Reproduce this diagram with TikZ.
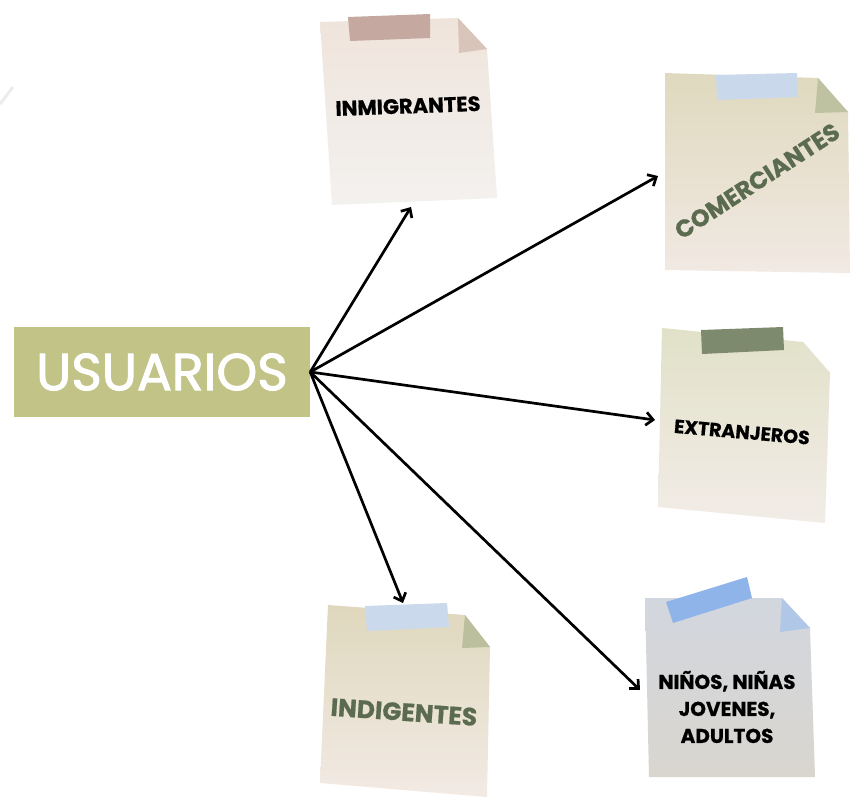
\documentclass[tikz,border=0pt]{standalone}
\usepackage{fontspec}
\usetikzlibrary{arrows.meta}
\newfontfamily\popf{Poppins}
\newcommand{\medw}{\popf\addfontfeature{FakeBold=2}}
\newcommand{\heavy}{\popf\bfseries\addfontfeature{FakeBold=0.7}}
\definecolor{usrfill}{HTML}{C2C387}
\definecolor{greentext}{HTML}{5B6B4F}
\definecolor{tapeA}{HTML}{C5A9A0}
\definecolor{foldA}{HTML}{D9C4B9}
\definecolor{noteAt}{HTML}{EFE4DB}
\definecolor{noteAb}{HTML}{F3F1EF}
\definecolor{noteBt}{HTML}{DFD9BE}
\definecolor{noteBb}{HTML}{F1E9E3}
\definecolor{foldB}{HTML}{BEC2A1}
\definecolor{tapeB}{HTML}{C9D9EB}
\definecolor{noteCt}{HTML}{E1E1C8}
\definecolor{noteCb}{HTML}{F2ECE7}
\definecolor{tapeC}{HTML}{7E8A6E}
\definecolor{foldC}{HTML}{E4E3CF}
\definecolor{noteDt}{HTML}{DFD8BD}
\definecolor{noteDb}{HTML}{F2EAE4}
\definecolor{foldD}{HTML}{BCBF9D}
\definecolor{tapeD}{HTML}{CAD9EC}
\definecolor{noteEt}{HTML}{D2D6DE}
\definecolor{noteEb}{HTML}{D9D6CF}
\definecolor{foldE}{HTML}{B0C7E8}
\definecolor{tapeE}{HTML}{8FB4EA}
\begin{document}
\begin{tikzpicture}[x=1pt,y=-1pt,
  notetext/.style={font=\heavy\fontsize{21}{24}\selectfont, text=black, inner sep=0pt, align=center},
  greenlabel/.style={notetext, text=greentext},
  link/.style={line width=2.7pt, -{Straight Barb[length=7pt,width=13pt,line width=2.7pt]}},
]
\useasboundingbox (0,0) rectangle (856,806);
\fill[white] (0,0) rectangle (856,806);
% faint stroke top-left
\draw[line width=3pt, gray!15] (0,104) -- (13,87);

% USUARIOS
\node[fill=usrfill, minimum width=296pt, minimum height=90pt, inner sep=0pt, text=white,
  font=\medw\fontsize{52}{55}\selectfont] (usr) at (162,372) {USUARIOS};

% INMIGRANTES note
\shade[top color=noteAt, bottom color=noteAb] (320,22) -- (458,18) -- (487,49) -- (497,198) -- (332,205) -- cycle;
\fill[foldA] (458,18) -- (459,53) -- (487,49) -- cycle;
\fill[tapeA] (348,17) -- (430,14) -- (430,38) -- (350,41) -- cycle;
\node[notetext, rotate=2] (inm) at (408,106) {INMIGRANTES};
\coordinate (inmend) at (411,207);

% COMERCIANTES note
\shade[top color=noteBt, bottom color=noteBb] (665,73) -- (818,78) -- (848,112) -- (850,273) -- (665,270) -- cycle;
\fill[foldB] (818,78) -- (815,113) -- (848,112) -- cycle;
\fill[tapeB] (716,75) -- (797,73) -- (798,97) -- (717,100) -- cycle;
\node[greenlabel, font=\heavy\fontsize{24}{26}\selectfont, rotate=33] (com) at (757,181) {COMERCIANTES};
\coordinate (comend) at (658,176);

% EXTRANJEROS note
\shade[top color=noteCt, bottom color=noteCb] (662,328) -- (803,342) -- (830,373) -- (825,523) -- (658,507) -- cycle;
\fill[foldC] (803,342) -- (800,373) -- (830,373) -- cycle;
\fill[tapeC] (701,330) -- (783,327) -- (784,350) -- (702,354) -- cycle;
\node[notetext, font=\heavy\fontsize{19}{22}\selectfont, rotate=-5] (ext) at (742,432) {EXTRANJEROS};
\coordinate (extend) at (655,420);

% INDIGENTES note
\shade[top color=noteDt, bottom color=noteDb] (328,605) -- (465,615) -- (490,647) -- (487,797) -- (320,783) -- cycle;
\fill[foldD] (465,615) -- (462,648) -- (490,647) -- cycle;
\fill[tapeD] (365,606) -- (447,603) -- (449,627) -- (367,631) -- cycle;
\node[greenlabel, font=\heavy\fontsize{25}{27}\selectfont, rotate=-4] (ind) at (404,712) {INDIGENTES};
\coordinate (indend) at (403,603);

% NINOS note
\shade[top color=noteEt, bottom color=noteEb] (645,598) -- (782,598) -- (810,628) -- (815,777) -- (649,777) -- cycle;
\fill[foldE] (782,598) -- (780,632) -- (810,628) -- cycle;
\fill[tapeE] (666,602) -- (747,577) -- (752,598) -- (673,623) -- cycle;
\node[notetext, font=\heavy\fontsize{20}{27}\selectfont] (nin) at (727,707) {NIÑOS, NIÑAS\\JOVENES,\\ADULTOS};
\coordinate (ninend) at (640,690);

% connectors
\draw[link] (usr.east) -- (inmend);
\draw[link] (usr.east) -- (comend);
\draw[link] (usr.east) -- (extend);
\draw[link] (usr.east) -- (indend);
\draw[link] (usr.east) -- (ninend);
\end{tikzpicture}
\end{document}
